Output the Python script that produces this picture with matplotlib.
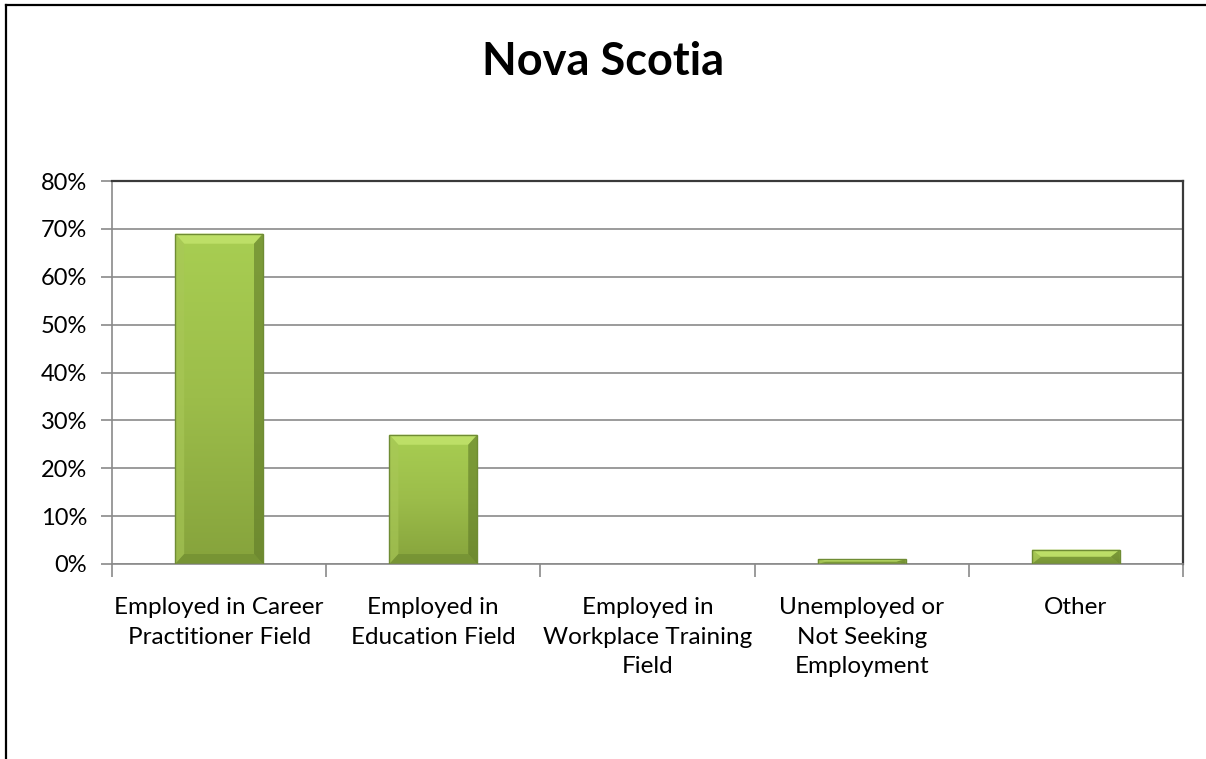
import numpy as np
import matplotlib
matplotlib.use("Agg")
import matplotlib.pyplot as plt
from matplotlib.patches import Polygon, Rectangle
from matplotlib.lines import Line2D
from matplotlib.ticker import FixedLocator, NullFormatter

plt.rcParams["font.family"] = ["Lato", "DejaVu Sans"]

title = "Nova Scotia"
categories = [
    "Employed in Career\nPractitioner Field",
    "Employed in\nEducation Field",
    "Employed in\nWorkplace Training\nField",
    "Unemployed or\nNot Seeking\nEmployment",
    "Other",
]
shares = [69, 27, 0, 1, 3]  # percent of respondents
yticks = [0, 10, 20, 30, 40, 50, 60, 70, 80]

W, H = 1206, 759
fig = plt.figure(figsize=(W / 100, H / 100), dpi=100)
ax = fig.add_axes([112 / W, 1 - 564 / H, (1183 - 112) / W, (564 - 181) / H])

# chart frame: only top and left edges are visible
fig.add_artist(Line2D([6 / W, 6 / W], [0, 1 - 5 / H], color="black", lw=1.6,
                      transform=fig.transFigure))
fig.add_artist(Line2D([6 / W, 1], [1 - 5 / H, 1 - 5 / H], color="black", lw=1.6,
                      transform=fig.transFigure))

fig.text(0.5, 1 - 62 / H, title, ha="center", va="center",
         fontsize=32.5, fontweight="bold")

n = len(categories)
ax.set_xlim(0, n)
ax.set_ylim(0, 80)
ax.set_yticks(yticks)
ax.set_yticklabels([f"{v}%" for v in yticks], fontsize=17)
ax.yaxis.grid(True, color="#8a8a8a", lw=1.2)
ax.set_axisbelow(True)

# category labels centred, ticks at category boundaries
ax.xaxis.set_major_locator(FixedLocator(np.arange(n + 1)))
ax.xaxis.set_major_formatter(NullFormatter())
ax.xaxis.set_minor_locator(FixedLocator(np.arange(n) + 0.5))
ax.set_xticklabels(categories, minor=True, fontsize=17.5, linespacing=1.5,
                   va="top")
ax.tick_params(axis="x", which="minor", length=0, pad=24)
ax.tick_params(axis="x", which="major", length=9, width=1.2, color="#8a8a8a")
ax.tick_params(axis="y", length=8, width=1.2, color="#8a8a8a", pad=10)

for side in ("left", "bottom"):
    ax.spines[side].set_color("#8a8a8a")
    ax.spines[side].set_linewidth(1.2)
for side in ("top", "right"):
    ax.spines[side].set_color("#3a3a3a")
    ax.spines[side].set_linewidth(1.6)

# bevelled green bars
bar_w = 0.41
px_x = n / (1183 - 112)
px_y = 80 / (564 - 181)
grad = np.linspace(0, 1, 256).reshape(-1, 1)
cmap = matplotlib.colors.LinearSegmentedColormap.from_list(
    "barfill", ["#86a33c", "#9cbd4a", "#a8ce52"])
for i, v in enumerate(shares):
    if v <= 0:
        continue
    x0, x1 = i + 0.5 - bar_w / 2, i + 0.5 + bar_w / 2
    rect = Rectangle((x0, 0), bar_w, v, facecolor="none", edgecolor="none")
    ax.add_patch(rect)
    im = ax.imshow(grad, extent=(x0, x1, 0, v), origin="lower", cmap=cmap,
                   aspect="auto", zorder=2)
    im.set_clip_path(rect)
    bx = min(9 * px_x, bar_w / 2)
    by = min(10 * px_y, v / 2)
    top = Polygon([(x0, v), (x1, v), (x1 - bx, v - by), (x0 + bx, v - by)],
                  facecolor="#c2e36c", edgecolor="none", alpha=0.85, zorder=3)
    left = Polygon([(x0, 0), (x0, v), (x0 + bx, v - by), (x0 + bx, by)],
                   facecolor="#a9c858", edgecolor="none", alpha=0.6, zorder=3)
    right = Polygon([(x1, 0), (x1, v), (x1 - bx, v - by), (x1 - bx, by)],
                    facecolor="#5f7a28", edgecolor="none", alpha=0.6, zorder=3)
    bottom = Polygon([(x0, 0), (x1, 0), (x1 - bx, by), (x0 + bx, by)],
                     facecolor="#6d8a30", edgecolor="none", alpha=0.6, zorder=3)
    for p in (top, left, right, bottom):
        ax.add_patch(p)
    ax.add_patch(Rectangle((x0, 0), bar_w, v, facecolor="none",
                           edgecolor="#6f8c34", lw=1, zorder=4))

ax.set_xlim(0, n)
ax.set_ylim(0, 80)
fig.savefig("out.png", dpi=100)
